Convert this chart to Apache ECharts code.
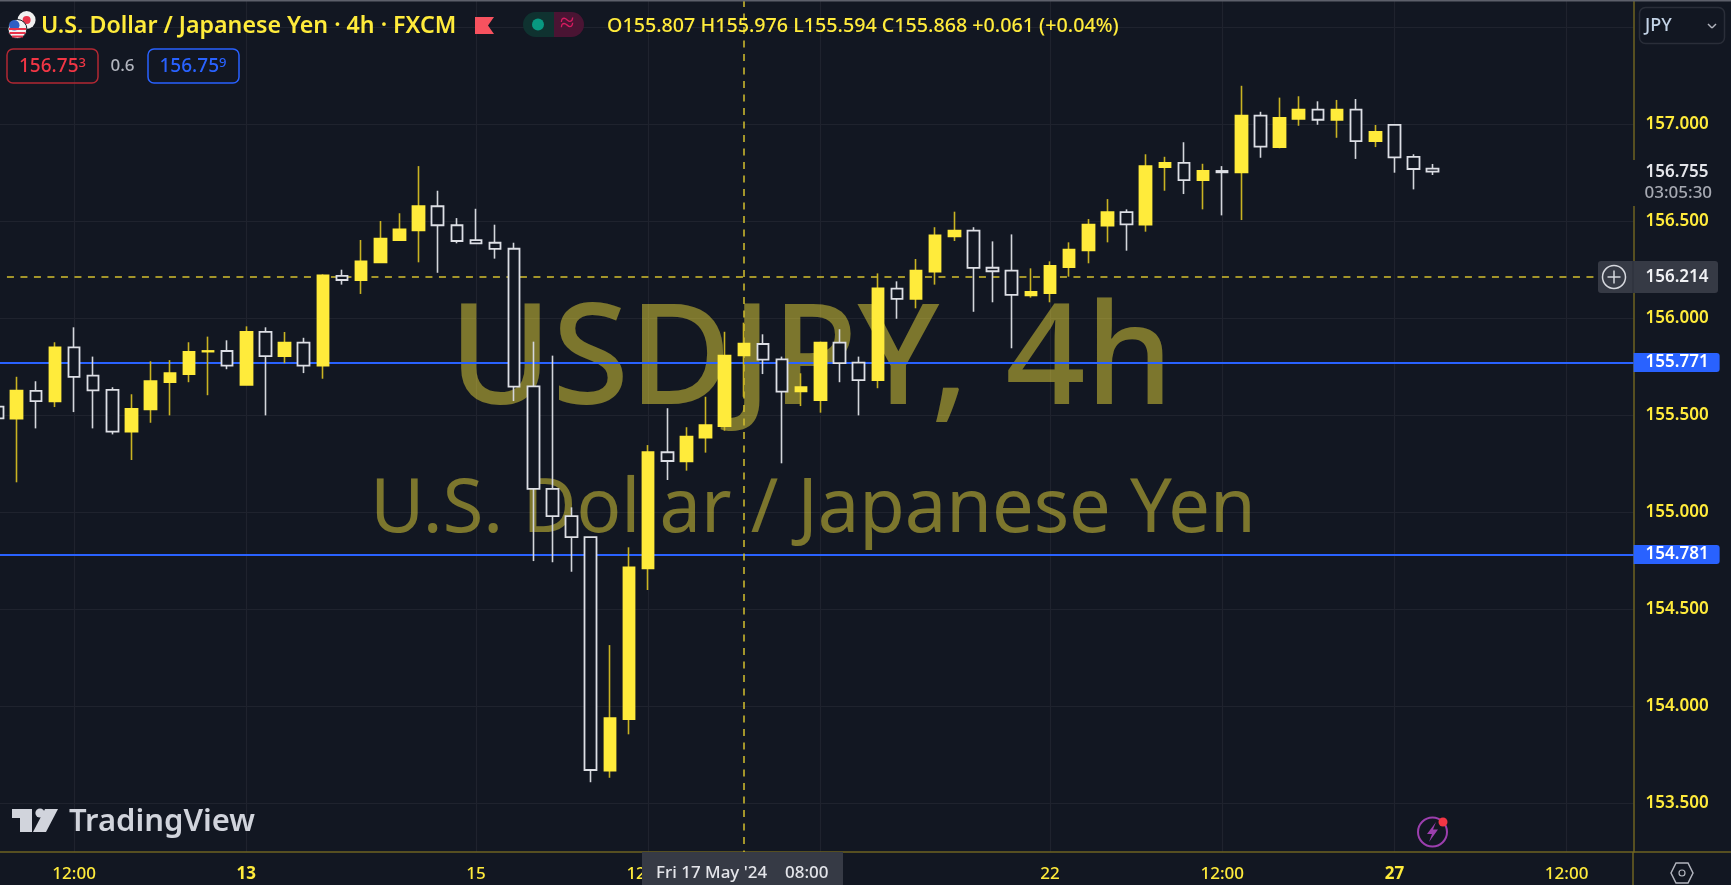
<!DOCTYPE html>
<html>
<head>
<meta charset="utf-8">
<title>USDJPY 4h</title>
<script src="https://cdn.jsdelivr.net/npm/echarts@6/dist/echarts.min.js"></script>
<style>
  html, body { margin: 0; padding: 0; background: #121722; }
  #chart { width: 1731px; height: 885px; }
</style>
</head>
<body>
<div id="chart"></div>
<script>
const candleTimes = [
  'May 8 20:00',
  'May 9 00:00', 'May 9 04:00', 'May 9 08:00', 'May 9 12:00', 'May 9 16:00', 'May 9 20:00',
  'May 10 00:00', 'May 10 04:00', 'May 10 08:00', 'May 10 12:00', 'May 10 16:00', 'May 10 20:00',
  'May 13 00:00', 'May 13 04:00', 'May 13 08:00', 'May 13 12:00', 'May 13 16:00', 'May 13 20:00',
  'May 14 00:00', 'May 14 04:00', 'May 14 08:00', 'May 14 12:00', 'May 14 16:00', 'May 14 20:00',
  'May 15 00:00', 'May 15 04:00', 'May 15 08:00', 'May 15 12:00', 'May 15 16:00', 'May 15 20:00',
  'May 16 00:00', 'May 16 04:00', 'May 16 08:00', 'May 16 12:00', 'May 16 16:00', 'May 16 20:00',
  'May 17 00:00', 'May 17 04:00', 'May 17 08:00', 'May 17 12:00', 'May 17 16:00', 'May 17 20:00',
  'May 20 00:00', 'May 20 04:00', 'May 20 08:00', 'May 20 12:00', 'May 20 16:00', 'May 20 20:00',
  'May 21 00:00', 'May 21 04:00', 'May 21 08:00', 'May 21 12:00', 'May 21 16:00', 'May 21 20:00',
  'May 22 00:00', 'May 22 04:00', 'May 22 08:00', 'May 22 12:00', 'May 22 16:00', 'May 22 20:00',
  'May 23 00:00', 'May 23 04:00', 'May 23 08:00', 'May 23 12:00', 'May 23 16:00', 'May 23 20:00',
  'May 24 00:00', 'May 24 04:00', 'May 24 08:00', 'May 24 12:00', 'May 24 16:00', 'May 24 20:00',
  'May 27 00:00', 'May 27 04:00', 'May 27 08:00'
];

const opens = [
  155.543, 155.481, 155.624, 155.571, 155.849, 155.703, 155.630, 155.414, 155.529, 155.669,
  155.711, 155.827, 155.830, 155.656, 155.928, 155.803, 155.873, 155.754, 156.217, 156.196,
  156.287, 156.402, 156.452, 156.576, 156.478, 156.401, 156.388, 156.357, 155.648, 155.119,
  154.979, 154.871, 153.667, 153.933, 154.710, 155.308, 155.261, 155.384, 155.443, 155.807,
  155.866, 155.787, 155.622, 155.577, 155.873, 155.770, 155.680, 156.151, 156.099, 156.239,
  156.421, 156.450, 156.259, 156.244, 156.117, 156.129, 156.263, 156.349, 156.476, 156.546,
  156.481, 156.778, 156.800, 156.711, 156.758, 156.751, 157.043, 156.881, 157.027, 157.074,
  157.022, 157.074, 156.912, 156.995, 156.831, 156.770
];
const highs = [
  155.557, 155.697, 155.674, 155.875, 155.952, 155.801, 155.643, 155.607, 155.777, 155.783,
  155.875, 155.904, 155.885, 155.957, 155.952, 155.928, 155.898, 156.225, 156.249, 156.402,
  156.500, 156.540, 156.783, 156.656, 156.515, 156.563, 156.481, 156.388, 155.878, 155.806,
  155.024, 154.871, 154.314, 154.818, 155.345, 155.535, 155.437, 155.594, 155.929, 155.976,
  155.916, 155.801, 155.715, 155.878, 155.942, 155.801, 156.230, 156.189, 156.304, 156.468,
  156.548, 156.468, 156.395, 156.431, 156.256, 156.292, 156.390, 156.510, 156.613, 156.560,
  156.844, 156.831, 156.906, 156.795, 156.783, 157.197, 157.063, 157.136, 157.143, 157.117,
  157.124, 157.129, 156.995, 156.995, 156.844, 156.794
];
const lows = [
  155.433, 155.153, 155.431, 155.541, 155.515, 155.431, 155.400, 155.268, 155.460, 155.498,
  155.669, 155.602, 155.736, 155.656, 155.498, 155.767, 155.716, 155.687, 156.172, 156.124,
  156.287, 156.397, 156.287, 156.233, 156.385, 156.383, 156.306, 155.572, 154.747, 154.741,
  154.692, 153.607, 153.630, 153.854, 154.598, 155.165, 155.213, 155.306, 155.419, 155.594,
  155.711, 155.251, 155.546, 155.512, 155.669, 155.498, 155.638, 155.996, 156.050, 156.172,
  156.397, 156.032, 156.081, 155.844, 156.105, 156.081, 156.213, 156.282, 156.390, 156.347,
  156.445, 156.656, 156.639, 156.560, 156.529, 156.505, 156.826, 156.875, 156.991, 156.996,
  156.929, 156.820, 156.881, 156.749, 156.663, 156.737
];
const closes = [
  155.483, 155.625, 155.572, 155.849, 155.697, 155.627, 155.414, 155.532, 155.674, 155.716,
  155.825, 155.830, 155.754, 155.928, 155.803, 155.873, 155.754, 156.220, 156.196, 156.292,
  156.409, 156.457, 156.577, 156.478, 156.397, 156.385, 156.356, 155.646, 155.119, 154.979,
  154.870, 153.670, 153.938, 154.715, 155.309, 155.263, 155.388, 155.448, 155.806, 155.868,
  155.785, 155.620, 155.643, 155.873, 155.767, 155.680, 156.153, 156.099, 156.244, 156.426,
  156.450, 156.258, 156.241, 156.119, 156.134, 156.268, 156.352, 156.481, 156.546, 156.483,
  156.783, 156.800, 156.711, 156.758, 156.751, 157.043, 156.883, 157.032, 157.074, 157.022,
  157.074, 156.912, 156.959, 156.828, 156.768, 156.755
];

const priceTicks = [153.5, 154, 154.5, 155, 155.5, 156, 156.5, 157, 157.5];
const hiddenPriceTick = 157.5; // sits under the JPY button
const timeTickIdx = [4, 13, 25, 34, 43, 55, 64, 73, 82];
const timeTickLabels = ['12:00', '13', '15', '12:00', '20', '22', '12:00', '27', '12:00'];
const boldTimeTicks = ['13', '27'];
const levelLines = [155.771, 154.781];
const crosshairPrice = 156.214;
const crosshairIdx = 39;

const BG = '#121722';
const YELLOW = '#FFEB3B';
const WHITE = '#DDDFE5';
const AXIS_LINE = '#6E6322';
const FONT = '"Noto Sans"';

const bodies = opens.map((o, i) => [i, o, closes[i], Math.min(o, closes[i]), Math.max(o, closes[i])]);
const wicks = opens.map((o, i) => [i, o, closes[i], lows[i], highs[i]]);

function text(str, x, y, size, fill, weight, extra) {
  return Object.assign({
    type: 'text',
    x: x,
    y: y,
    z: 20,
    silent: true,
    style: {
      text: str,
      fill: fill,
      font: (weight || 'normal') + ' ' + size + 'px ' + FONT,
      textAlign: 'left',
      textVerticalAlign: 'middle'
    }
  }, extra || {});
}

function rect(x, y, w, h, fill, stroke, r, lineWidth) {
  return {
    type: 'rect',
    z: 15,
    silent: true,
    shape: { x: x, y: y, width: w, height: h, r: r || 0 },
    style: { fill: fill, stroke: stroke || null, lineWidth: lineWidth || 1.5 }
  };
}

function circle(cx, cy, r, fill, stroke, lineWidth) {
  return {
    type: 'circle',
    z: 16,
    silent: true,
    shape: { cx: cx, cy: cy, r: r },
    style: { fill: fill, stroke: stroke || null, lineWidth: lineWidth || 1.5 }
  };
}

function poly(points, fill, stroke, lineWidth) {
  return {
    type: 'polygon',
    z: 16,
    silent: true,
    shape: { points: points },
    style: { fill: fill, stroke: stroke || null, lineWidth: lineWidth || 1.5 }
  };
}

function line(x1, y1, x2, y2, stroke, lineWidth) {
  return {
    type: 'line',
    z: 17,
    silent: true,
    shape: { x1: x1, y1: y1, x2: x2, y2: y2 },
    style: { stroke: stroke, lineWidth: lineWidth || 1.5 }
  };
}

const graphics = [
  // watermark
  {
    type: 'text', x: 811, y: 364, z: 1, silent: true,
    style: { text: 'USDJPY, 4h', fill: 'rgba(255,235,59,0.45)', font: '500 140px ' + FONT, textAlign: 'center', textVerticalAlign: 'middle' }
  },
  {
    type: 'text', x: 813, y: 511, z: 1, silent: true,
    style: { text: 'U.S. Dollar / Japanese Yen', fill: 'rgba(255,235,59,0.45)', font: 'normal 74px ' + FONT, textAlign: 'center', textVerticalAlign: 'middle' }
  },

  // top edge of the window
  rect(0, 0, 1731, 1.5, '#5D606B'),

  // axis lines run on past the plot to the window edges
  line(1633, 852, 1731, 852, AXIS_LINE, 1.5),
  line(1633, 852, 1633, 885, AXIS_LINE, 1.5),

  // header
  circle(26.6, 20, 9, '#F0F0F0'),
  circle(26.6, 20, 4, '#E8334A'),
  circle(17.4, 29, 9.5, '#F2F2F2', BG, 1),
  line(9.5, 33, 25.5, 33, '#E8334A', 2),
  line(12, 36.5, 23, 36.5, '#E8334A', 2),
  line(9, 29, 26, 29, '#E8334A', 2),
  circle(14.3, 25.2, 5.2, '#2F5FC4'),
  text('U.S. Dollar / Japanese Yen \u00B7 4h \u00B7 FXCM', 41, 26, 23.2, YELLOW, '600'),
  poly([[475, 17], [494, 17], [488, 25.5], [494, 34], [475, 34]], '#F7525F'),
  rect(523, 12, 31, 25, '#0F3230', null, [12.5, 0, 0, 12.5]),
  rect(554, 12, 30, 25, '#4A1433', null, [0, 12.5, 12.5, 0]),
  circle(538, 24.5, 6, '#089981'),
  text('\u2248', 560, 24, 26, '#D81B60', '500'),
  text('O155.807 H155.976 L155.594 C155.868 +0.061 (+0.04%)', 607, 26, 19.7, YELLOW, '500'),

  // bid / ask boxes
  rect(7, 49, 91, 34, null, '#B22833', 6),
  text('156.75', 19, 66.5, 19, '#F23645', '500'),
  text('3', 78.5, 63, 13, '#F23645', '500'),
  text('0.6', 110.5, 66, 17, '#B2B5BE', '500'),
  rect(148, 49, 91, 34, null, '#2962FF', 6),
  text('156.75', 159.5, 66.5, 19, '#2962FF', '500'),
  text('9', 219, 63, 13, '#2962FF', '500'),

  // currency button
  rect(1639.5, 7.5, 85, 36, null, '#2A2E39', 6),
  text('JPY', 1645, 26, 18, '#C3D3E6', '500'),
  line(1708, 24, 1712, 28, '#B2B5BE', 1.5),
  line(1712, 28, 1716, 24, '#B2B5BE', 1.5),

  // last price + countdown, box interrupts the axis line
  rect(1630, 160, 95, 46, BG),
  text('156.755', 1645.5, 172, 17, '#E4E5EA', '600'),
  text('03:05:30', 1644.5, 193, 17, '#A6A9B2', '500'),

  // crosshair price label
  rect(1598, 261, 120, 32, '#363A45', null, 3),
  line(1633, 261, 1633, 293, '#2B2F3A', 1),
  circle(1614, 277, 11.5, null, '#D6D8DE', 1.5),
  line(1607.5, 277, 1620.5, 277, '#D6D8DE', 1.5),
  line(1614, 270.5, 1614, 283.5, '#D6D8DE', 1.5),
  text('156.214', 1645.5, 277, 17, '#F0F1F4', '600'),

  // crosshair time label
  rect(642, 852, 201, 33, '#363A45'),
  text("Fri 17 May '24", 656, 873, 17, '#E4E5EA', '500'),
  text('08:00', 785, 873, 17, '#E4E5EA', '500'),

  // logo
  poly([[12, 809], [32, 809], [32, 832], [20, 832], [20, 818], [12, 818]], '#D1D4DC'),
  circle(40, 813, 4.6, '#D1D4DC'),
  poly([[45, 809], [58, 809], [46, 832], [33, 832]], '#D1D4DC'),
  text('TradingView', 69, 822, 31, '#D1D4DC', '600'),

  // lightning button
  circle(1432.5, 832, 14.5, null, '#9C3FAE', 2),
  poly([[1436, 822], [1427, 834], [1432, 834], [1429, 842], [1438, 829.5], [1433, 829.5]], '#9C3FAE'),
  circle(1443, 822, 4.5, '#F23645'),

  // settings hexagon
  poly([[1676, 863], [1688, 863], [1693, 873], [1688, 883], [1676, 883], [1671, 873]], null, '#B2B5BE', 1.5),
  circle(1682, 873, 3, null, '#B2B5BE', 1.2)
];

const chart = echarts.init(document.getElementById('chart'), null, { renderer: 'canvas' });

chart.setOption({
  animation: false,
  backgroundColor: BG,
  tooltip: {
    trigger: 'item',
    formatter: (p) => candleTimes[p.value[0]] + '<br/>O ' + opens[p.value[0]] + ' H ' + highs[p.value[0]] + ' L ' + lows[p.value[0]] + ' C ' + closes[p.value[0]]
  },
  grid: { left: -12, top: 0, width: 1645.6, height: 852, outerBoundsMode: 'none' },
  xAxis: {
    type: 'value',
    min: -0.5,
    max: 85.5,
    axisLine: { onZero: false, lineStyle: { color: AXIS_LINE, width: 1.5 } },
    axisTick: { show: false, customValues: timeTickIdx },
    splitLine: { show: true, lineStyle: { color: '#1F232E', width: 1.2 } },
    axisLabel: {
      customValues: timeTickIdx,
      margin: 14,
      fontFamily: FONT,
      fontSize: 17,
      fontWeight: 500,
      color: YELLOW,
      formatter: (v) => {
        const label = timeTickLabels[timeTickIdx.indexOf(v)];
        return boldTimeTicks.includes(label) ? '{b|' + label + '}' : label;
      },
      rich: { b: { fontFamily: FONT, fontSize: 17, fontWeight: 700, color: YELLOW } }
    }
  },
  yAxis: {
    type: 'value',
    position: 'right',
    min: 153.2474,
    max: 157.6392,
    axisLine: { show: true, onZero: false, lineStyle: { color: AXIS_LINE, width: 1.5 } },
    axisTick: { show: false, customValues: priceTicks },
    splitLine: { show: true, lineStyle: { color: '#1F232E', width: 1.2 } },
    axisLabel: {
      customValues: priceTicks,
      margin: 12,
      align: 'left',
      padding: [2, 0, 0, 0],
      fontFamily: FONT,
      fontSize: 17,
      fontWeight: 600,
      color: YELLOW,
      formatter: (v) => (v === hiddenPriceTick ? '' : v.toFixed(3))
    }
  },
  graphic: graphics,
  series: [
    {
      name: 'levels',
      type: 'line',
      data: [],
      silent: true,
      z: 2,
      markLine: {
        z: 2,
        silent: true,
        symbol: 'none',
        animation: false,
        data: levelLines.map((v) => [
          {
            coord: [-0.5, v],
            lineStyle: { color: '#2962FF', width: 2, type: 'solid' },
            label: {
              show: true,
              position: 'end',
              distance: 0,
              formatter: v.toFixed(3),
              fontFamily: FONT,
              fontSize: 17,
              fontWeight: 600,
              color: '#FFFFFF',
              backgroundColor: '#2962FF',
              padding: [1, 11, 1, 12],
              borderRadius: [0, 3, 3, 0]
            }
          },
          { coord: [85.5, v] }
        ]).concat([
          [
            {
              coord: [0.49, crosshairPrice],
              lineStyle: { color: '#D4C02E', width: 1.5, type: [7, 6.5] },
              label: { show: false }
            },
            { coord: [83.53, crosshairPrice] }
          ],
          [
            {
              coord: [crosshairIdx, 157.6392],
              lineStyle: { color: '#D4C02E', width: 1.5, type: [7, 6.5] },
              label: { show: false }
            },
            { coord: [crosshairIdx, 153.2474] }
          ]
        ])
      }
    },
    {
      name: 'wicks',
      type: 'candlestick',
      z: 3,
      barWidth: 1,
      data: wicks,
      itemStyle: { color: '#C9B322', color0: '#D4D6DC', borderColor: '#C9B322', borderColor0: '#D4D6DC', borderWidth: 1.6 }
    },
    {
      name: 'USDJPY',
      type: 'candlestick',
      z: 4,
      barWidth: 12,
      data: bodies,
      itemStyle: { color: YELLOW, color0: BG, borderColor: YELLOW, borderColor0: WHITE, borderWidth: 1.8 }
    }
  ]
});
</script>
</body>
</html>
